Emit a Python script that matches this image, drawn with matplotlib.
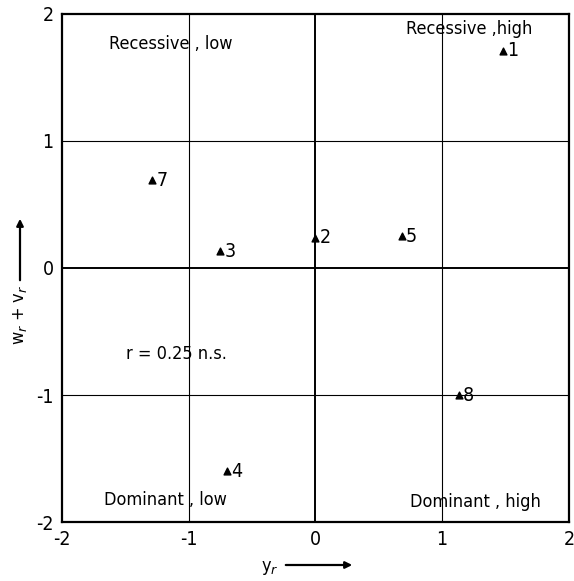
import matplotlib
matplotlib.use("Agg")
import matplotlib.pyplot as plt

# Data
ids = ["1", "2", "3", "4", "5", "7", "8"]
yr = [1.48, 0.00, -0.75, -0.70, 0.68, -1.29, 1.13]
wv = [1.71, 0.24, 0.13, -1.60, 0.25, 0.69, -1.00]
ticks = [-2, -1, 0, 1, 2]
tick_labels = ["-2", "-1", "0", "1", "2"]
quadrant_labels = ["Recessive , low", "Recessive ,high", "Dominant , low", "Dominant , high"]
quadrant_pos = [(-1.14, 1.76), (1.21, 1.88), (-1.18, -1.83), (1.26, -1.84)]

FONT = dict(family="DejaVu Sans", stretch="condensed")
FS = 13

fig = plt.figure(figsize=(5.74, 5.81), dpi=100)
ax = fig.add_axes([0.108, 0.1015, 0.883, 0.8745])
ax.set_xlim(-2, 2)
ax.set_ylim(-2, 2)

for v in (-1, 1):
    ax.axvline(v, color="black", lw=0.8)
    ax.axhline(v, color="black", lw=0.8)
ax.axvline(0, color="black", lw=1.4)
ax.axhline(0, color="black", lw=1.4)
for s in ax.spines.values():
    s.set_linewidth(1.6)

ax.scatter(yr, wv, marker="^", s=24, color="black", zorder=3)
for x, y, t in zip(yr, wv, ids):
    ax.text(x + 0.035, y, t, fontsize=FS + 1, ha="left", va="center", **FONT)

for (x, y), t in zip(quadrant_pos, quadrant_labels):
    ax.text(x, y, t, fontsize=FS, ha="center", va="center", **FONT)
ax.text(-1.10, -0.68, "r = 0.25 n.s.", fontsize=FS, ha="center", va="center", **FONT)

ax.set_xticks(ticks)
ax.set_yticks(ticks)
ax.set_xticklabels(tick_labels, fontsize=FS + 1, **FONT)
ax.set_yticklabels(tick_labels, fontsize=FS + 1, **FONT)
ax.tick_params(length=0, pad=6)

# axis labels with arrows
fig.text(270 / 574, 1 - 568 / 581, "y$_r$", fontsize=FS, ha="center", va="center", **FONT)
fig.add_artist(matplotlib.patches.FancyArrowPatch(
    (283 / 574, 1 - 565 / 581), (355 / 574, 1 - 565 / 581),
    transform=fig.transFigure, arrowstyle="-|>", mutation_scale=10, lw=1.6, color="black"))
fig.text(20 / 574, 1 - 315 / 581, "w$_r$ + v$_r$", fontsize=FS, ha="center", va="center",
         rotation=90, **FONT)
fig.add_artist(matplotlib.patches.FancyArrowPatch(
    (20 / 574, 1 - 283 / 581), (20 / 574, 1 - 216 / 581),
    transform=fig.transFigure, arrowstyle="-|>", mutation_scale=10, lw=1.6, color="black"))

fig.savefig("out.png", dpi=100, facecolor="white")
